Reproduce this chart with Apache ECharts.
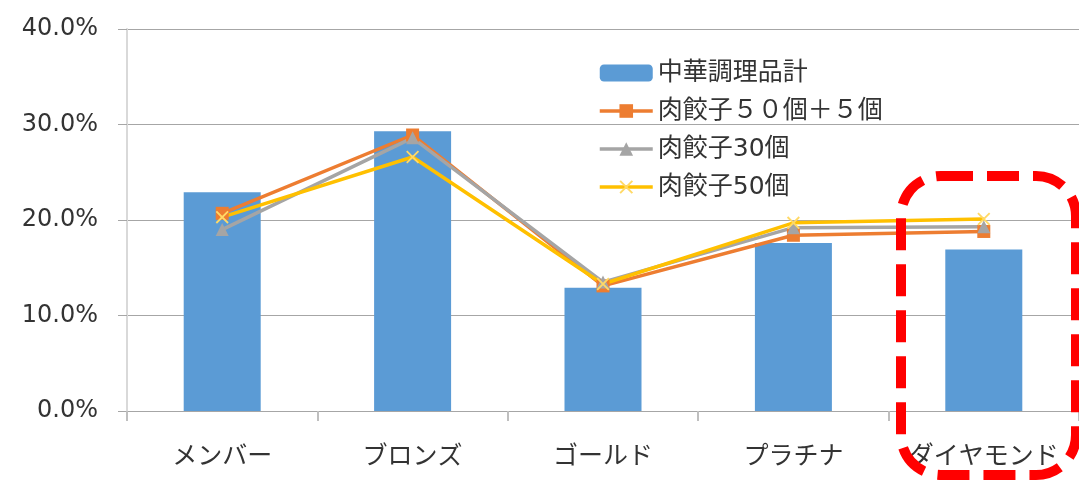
<!DOCTYPE html>
<html>
<head>
<meta charset="utf-8">
<script src="https://cdn.jsdelivr.net/npm/echarts@6/dist/echarts.min.js"></script>
<style>
  html, body { margin: 0; padding: 0; background: #fff; }
  #chart { width: 1079px; height: 481px; }
</style>
</head>
<body>
<div id="chart"></div>
<script>
// 会員ランク別 構成比
const categories = ['メンバー', 'ブロンズ', 'ゴールド', 'プラチナ', 'ダイヤモンド'];
const yTicks = [0, 0.1, 0.2, 0.3, 0.4];

const chukaTotal = [0.229, 0.293, 0.129, 0.176, 0.169];   // 中華調理品計 (bar)
const gyoza50plus5 = [0.207, 0.289, 0.131, 0.184, 0.188]; // 肉餃子５０個＋５個
const gyoza30 = [0.190, 0.286, 0.135, 0.192, 0.193];      // 肉餃子30個
const gyoza50 = [0.203, 0.266, 0.133, 0.197, 0.201];      // 肉餃子50個

const font = '"DejaVu Sans", "Noto Sans CJK JP", sans-serif';
const jpFont = '"Noto Sans CJK JP", "Noto Sans", sans-serif';
const textColor = '#333';
const crossMark = 'path://M0,1L1,0L10,9L9,10Z M9,0L10,1L1,10L0,9Z';

const chart = echarts.init(document.getElementById('chart'));

const options = {
    animation: false,
    backgroundColor: '#fff',
    textStyle: { fontFamily: jpFont },
    grid: {
        left: 127,
        top: 29,
        width: 957,
        height: 382
    },
    legend: {
        orient: 'vertical',
        left: 598,
        top: 58,
        padding: 0,
        itemWidth: 53,
        itemHeight: 17,
        itemGap: 8,
        textStyle: { fontSize: 25, lineHeight: 30, color: textColor, fontFamily: font },
        data: [
            { name: '中華調理品計' },
            { name: '肉餃子５０個＋５個', lineStyle: { width: 3.5 } },
            { name: '肉餃子30個', lineStyle: { width: 3.5 } },
            { name: '肉餃子50個', lineStyle: { width: 3.5 } }
        ]
    },
    xAxis: {
        type: 'category',
        data: categories,
        axisLine: { lineStyle: { color: '#a6a6a6', width: 1 } },
        axisTick: { show: true, interval: 0, length: 10, lineStyle: { color: '#bfbfbf', width: 2 } },
        axisLabel: { interval: 0, fontSize: 25, color: textColor, margin: 31, fontFamily: jpFont }
    },
    yAxis: {
        type: 'value',
        min: yTicks[0],
        max: yTicks[yTicks.length - 1],
        interval: 0.1,
        axisLine: { show: true, lineStyle: { color: '#d9d9d9', width: 2 } },
        axisTick: { show: true, length: 9, lineStyle: { color: '#a6a6a6' } },
        splitLine: { lineStyle: { color: '#a6a6a6', width: 1 } },
        axisLabel: {
            fontSize: 24,
            color: textColor,
            margin: 29,
            fontFamily: font,
            formatter: v => (v * 100).toFixed(1) + '%'
        }
    },
    series: [
        {
            name: '中華調理品計',
            type: 'bar',
            barWidth: 77,
            itemStyle: { color: '#5b9bd5' },
            data: chukaTotal
        },
        {
            name: '肉餃子５０個＋５個',
            type: 'line',
            symbol: 'rect',
            symbolSize: 13,
            lineStyle: { color: '#ed7d31', width: 3.5 },
            itemStyle: { color: '#ed7d31' },
            data: gyoza50plus5
        },
        {
            name: '肉餃子30個',
            type: 'line',
            symbol: 'triangle',
            symbolSize: 13,
            lineStyle: { color: '#a5a5a5', width: 3.5 },
            itemStyle: { color: '#a5a5a5' },
            data: gyoza30
        },
        {
            name: '肉餃子50個',
            type: 'line',
            symbol: crossMark,
            symbolSize: 13,
            lineStyle: { color: '#ffc000', width: 3.5 },
            itemStyle: { color: '#ffd966' },
            data: gyoza50
        }
    ],
    graphic: [
        {
            type: 'rect',
            z: 100,
            shape: { x: 901, y: 176, width: 175, height: 299, r: 40 },
            style: { fill: 'none', stroke: '#ff0000', lineWidth: 10, lineDash: [32, 14] }
        }
    ]
};

chart.setOption(options);
</script>
</body>
</html>
